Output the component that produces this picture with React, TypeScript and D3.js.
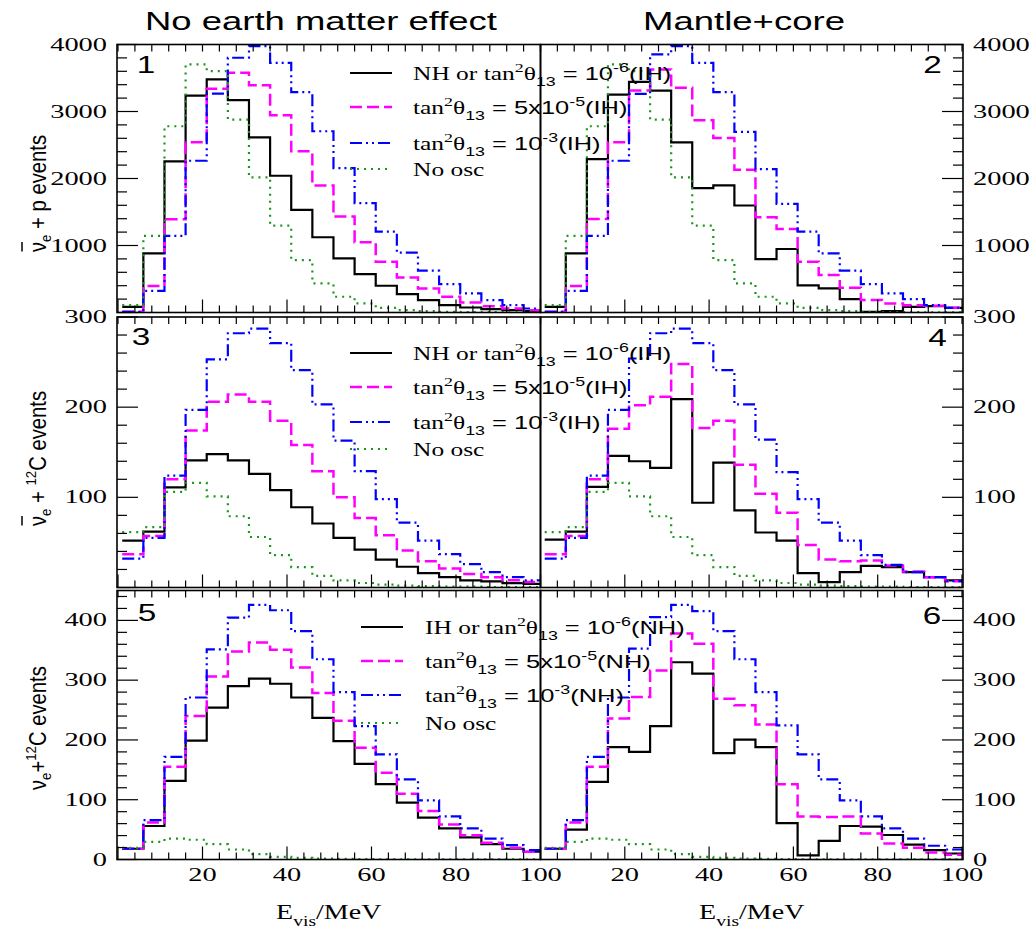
import React from 'react';
import * as d3 from 'd3';

// ---------- data ----------
const binEdges = [1, 6, 11, 16, 21, 26, 31, 36, 41, 46, 51, 56, 61, 66, 71, 76, 81, 86, 91, 96, 101];

// panel 1: anti-nu_e + p, no earth matter effect
const p1Black = [85, 883, 2255, 3238, 3478, 3169, 2615, 2041, 1532, 1123, 808, 574, 399, 274, 185, 110, 75, 50, 35, 20];
const p1Magenta = [10, 394, 1392, 2540, 3338, 3578, 3393, 2944, 2405, 1896, 1432, 1048, 758, 524, 359, 235, 150, 95, 60, 35];
const p1Blue = [10, 324, 1143, 2265, 3268, 3802, 3977, 3727, 3288, 2705, 2156, 1632, 1207, 893, 624, 424, 284, 185, 110, 60];
const noOscP = [110, 1143, 2780, 3703, 3603, 2879, 2016, 1297, 783, 434, 235, 135, 70, 35, 20, 10, 5, 5, 3, 2];

// panel 2: anti-nu_e + p, mantle+core
const p2Black = [85, 883, 2290, 3253, 3443, 3313, 2540, 1856, 1896, 1597, 798, 948, 404, 359, 200, 10, 20, 85, 95, 70];
const p2Magenta = [10, 394, 1397, 2540, 3313, 3628, 3353, 2869, 2605, 2131, 1422, 1248, 758, 559, 369, 185, 135, 110, 100, 70];
const p2Blue = [10, 324, 1143, 2265, 3263, 3852, 3977, 3727, 3288, 2695, 2141, 1622, 1207, 883, 624, 424, 284, 200, 110, 70];

// panel 3: anti-nu_e + 12C, no earth matter effect
const p3Black = [52, 62, 111, 141, 148, 141, 126, 108, 89, 71, 55, 42, 31, 23, 16, 11.5, 8, 6.7, 4.8, 4];
const p3Magenta = [37, 57, 120, 174, 206, 214, 206, 185, 158, 129, 100, 77, 58, 41, 29, 21, 15, 11.5, 8, 6];
const p3Blue = [32, 55, 124, 197, 253, 282, 287, 271, 241, 203, 163, 129, 98, 72, 52, 37, 26, 17, 11.5, 8];
const noOscC = [61.5, 67, 106, 116, 101, 79, 56, 36, 22.6, 13, 7.8, 5, 3.3, 2, 1.5, 1, 1, 0.5, 0.5, 0.5];

// panel 4: anti-nu_e + 12C, mantle+core
const p4Black = [53, 62, 111.5, 146, 140, 132.6, 209, 94, 138.5, 85.5, 61, 52, 16, 6, 17, 24, 22.6, 17, 11.5, 8];
const p4Magenta = [37, 57, 120, 176, 202, 211.5, 248, 177, 185, 136, 104, 83, 47, 31, 29, 30, 24.4, 17.8, 11.5, 7];
const p4Blue = [32, 55, 124, 197, 254, 282, 287, 271, 241, 203, 164, 128, 98, 72, 52, 36, 25, 17, 11.5, 7];

// panel 5: nu_e + 12C, no earth matter effect
const p5Black = [18, 56, 131.5, 199, 254, 290, 302.5, 294, 271, 237, 198, 160, 126, 95, 70, 52, 37, 25.6, 18, 13];
const p5Magenta = [18, 62, 155, 240, 306, 348, 363, 351, 321, 278.5, 232, 187, 145, 110, 81, 58.5, 40.7, 28, 19.5, 13];
const p5Blue = [18, 66, 171.6, 271, 351.5, 404.5, 426, 417, 382, 335, 280, 223, 176, 134, 99, 72, 52, 35, 24, 15.6];
const noOscNu = [19.5, 29.5, 35, 33, 25.6, 16.7, 9, 4.5, 2.8, 1.7, 1, 0.5, 0.3, 0.2, 0.1, 0.1, 0.1, 0.1, 0.1, 0.1];

// panel 6: nu_e + 12C, mantle+core
const p6Black = [18, 50, 130, 188, 180, 223, 330, 311, 178, 200.5, 188, 61, 7, 31, 56, 55, 41, 25, 15.6, 10];
const p6Magenta = [18, 62, 155, 236, 272, 316, 378, 361, 269, 258, 226, 126, 72, 71, 72, 43.5, 26.7, 19.5, 11.7, 8];
const p6Blue = [18, 66, 171.6, 271, 352.6, 405.6, 426, 415.6, 382, 335, 280, 224.5, 176, 134, 99, 72, 52, 35, 23, 16.7];

const xTickLabels = [20, 40, 60, 80, 100];
const yLabelsP = [1000, 2000, 3000, 4000];
const yLabelsAC = [100, 200, 300];
const yLabelsNC = [0, 100, 200, 300, 400];
const columnTitles = ['No earth matter effect', 'Mantle+core'];

// ---------- layout / style ----------
const serif = "'Liberation Serif', 'Times New Roman', serif";
const sans = "'Liberation Sans', Arial, sans-serif";

const cols = [
  { fx0: 117, fx1: 540.5, xr: [118, 540.5] },
  { fx0: 540.5, fx1: 963, xr: [540.5, 962] },
];
const rows = [
  { y0: 44.5, y1: 312.5, max: 4000, major: 1000, minor: 200, labels: yLabelsP },
  { y0: 317, y1: 587.5, max: 300, major: 100, minor: 20, labels: yLabelsAC },
  { y0: 590.5, y1: 859.5, max: 450, major: 100, minor: 20, labels: yLabelsNC },
];

const styles = [
  { color: '#000000', width: 2.2, dash: '' },
  { color: '#ff00ff', width: 2.5, dash: '12,5' },
  { color: '#0000ff', width: 2.2, dash: '12,4,2,4,2,4' },
  { color: '#1a961a', width: 2.2, dash: '2,5' },
];

const panels = [
  { row: 0, col: 0, series: [p1Black, p1Magenta, p1Blue, noOscP], num: '1', nx: 146, ny: 73 },
  { row: 0, col: 1, series: [p2Black, p2Magenta, p2Blue, noOscP], num: '2', nx: 932.5, ny: 73 },
  { row: 1, col: 0, series: [p3Black, p3Magenta, p3Blue, noOscC], num: '3', nx: 141, ny: 345 },
  { row: 1, col: 1, series: [p4Black, p4Magenta, p4Blue, noOscC], num: '4', nx: 937.5, ny: 346 },
  { row: 2, col: 0, series: [p5Black, p5Magenta, p5Blue, noOscNu], num: '5', nx: 147, ny: 621 },
  { row: 2, col: 1, series: [p6Black, p6Magenta, p6Blue, noOscNu], num: '6', nx: 932, ny: 624 },
];

type Part = { t: string; f: 'r' | 's'; p?: 'sup' | 'sub' };

function legendParts(prefix: string, mid: string, hier: string): Part[] {
  const parts: Part[] = [];
  if (prefix) parts.push({ t: prefix, f: 'r' });
  parts.push({ t: 'tan', f: 'r' });
  parts.push({ t: '2', f: 'r', p: 'sup' });
  parts.push({ t: 'θ', f: 'r' });
  parts.push({ t: '13', f: 's', p: 'sub' });
  return parts.concat(midParts(mid, hier));
}
function midParts(mid: string, hier: string): Part[] {
  const [base, exp] = mid.split('|');
  return [
    { t: ' = ' + base, f: 's' },
    { t: exp, f: 's', p: 'sup' },
    { t: '(' + hier + ')', f: 's' },
  ];
}

const legendRowsY = [
  [73, 107, 143, 169],
  [353, 387, 422, 449],
  [627, 661, 695, 723],
];

function RichText({ parts, size }: { parts: Part[]; size: number }) {
  let cur = 0;
  return (
    <text fontSize={size} fill="#000">
      {parts.map((p, i) => {
        const target = p.p === 'sup' ? -8 : p.p === 'sub' ? 6 : 0;
        const dy = target - cur;
        cur = target;
        return (
          <tspan key={i} dy={dy} fontFamily={p.f === 'r' ? serif : sans} fontSize={p.p ? size * 0.7 : size}>
            {p.t}
          </tspan>
        );
      })}
    </text>
  );
}

function histPath(values: number[], x: d3.ScaleLinear<number, number>, y: d3.ScaleLinear<number, number>) {
  const pts: [number, number][] = values.map((v, i) => [x(binEdges[i]), y(v)]);
  pts.push([x(binEdges[values.length]), y(values[values.length - 1])]);
  return d3.line().curve(d3.curveStepAfter)(pts) || '';
}

function Digits({ x, y, text, anchor }: { x: number; y: number; text: string; anchor: 'start' | 'end' | 'middle' }) {
  const len = text.length * 14.2;
  const x0 = anchor === 'start' ? x : anchor === 'end' ? x - len : x - len / 2;
  return (
    <text x={x0} y={y} fontFamily={serif} fontSize={18.5} textLength={len} lengthAdjust="spacingAndGlyphs">
      {text}
    </text>
  );
}

export default function App() {
  const xScales = cols.map((c) => d3.scaleLinear().domain([0, 100]).range(c.xr));
  const yScales = rows.map((r) => d3.scaleLinear().domain([0, r.max]).range([r.y1, r.y0]));
  const xTicks = d3.range(0, 100.001, 4);

  const legendSets = [
    { rowIdx: 0, lx: [350, 392], tx: 413, first: 'NH or ', hier: 'IH' },
    { rowIdx: 1, lx: [350, 392], tx: 413, first: 'NH or ', hier: 'IH' },
    { rowIdx: 2, lx: [361, 403], tx: 425, first: 'IH or ', hier: 'NH' },
  ];

  return (
    <svg width={1036} height={929} style={{ position: 'absolute', left: 0, top: 0, background: '#fff' }}>
      <rect x={0} y={0} width={1036} height={929} fill="#fff" />
      <defs>
        {panels.map((p, i) => {
          const c = cols[p.col];
          const r = rows[p.row];
          return (
            <clipPath id={`clip${i}`} key={i}>
              <rect x={c.fx0} y={r.y0} width={c.fx1 - c.fx0} height={r.y1 - r.y0} />
            </clipPath>
          );
        })}
      </defs>

      {/* titles */}
      <text x={145} y={30} fontFamily={sans} fontSize={26} textLength={352} lengthAdjust="spacingAndGlyphs">
        {columnTitles[0]}
      </text>
      <text x={643} y={30} fontFamily={sans} fontSize={26} textLength={202} lengthAdjust="spacingAndGlyphs">
        {columnTitles[1]}
      </text>

      {panels.map((p, i) => {
        const c = cols[p.col];
        const r = rows[p.row];
        const x = xScales[p.col];
        const y = yScales[p.row];
        const yTicks = d3.range(0, r.max + 0.001, r.minor);
        const isLeft = p.col === 0;
        const yEdge = isLeft ? c.fx0 : c.fx1;
        const dir = isLeft ? 1 : -1;
        return (
          <g key={i}>
            <g clipPath={`url(#clip${i})`}>
              {p.series.map((s, k) => (
                <path
                  key={k}
                  d={histPath(s, x, y)}
                  fill="none"
                  stroke={styles[k].color}
                  strokeWidth={styles[k].width}
                  strokeDasharray={styles[k].dash || undefined}
                />
              ))}
            </g>
            <rect x={c.fx0} y={r.y0} width={c.fx1 - c.fx0} height={r.y1 - r.y0} fill="none" stroke="#000" strokeWidth={1.6} />
            {xTicks.map((t) => {
              const major = Math.abs(t % 20) < 1e-6;
              return (
                <g key={'x' + t} stroke="#000" strokeWidth={1.2}>
                  <line x1={x(t)} x2={x(t)} y1={r.y1} y2={r.y1 - (major ? 13 : 7)} />
                  <line x1={x(t)} x2={x(t)} y1={r.y0} y2={r.y0 + 7} />
                </g>
              );
            })}
            {yTicks.map((t) => {
              const major = Math.abs(t % r.major) < 1e-6;
              const yy = y(t);
              return (
                <line
                  key={'y' + t}
                  x1={yEdge}
                  x2={yEdge + dir * (major ? 21 : 10)}
                  y1={yy}
                  y2={yy}
                  stroke="#000"
                  strokeWidth={1.2}
                />
              );
            })}
            {r.labels.map((v) => (
              <Digits key={'yl' + v} x={isLeft ? 107 : 973} y={y(v) + 6} text={String(v)} anchor={isLeft ? 'end' : 'start'} />
            ))}
            {p.row === 2 &&
              xTickLabels.map((v) => <Digits key={'xl' + v} x={x(v)} y={881} text={String(v)} anchor="middle" />)}
            <g transform={`translate(${p.nx},${p.ny}) scale(1.45,1)`}>
              <text textAnchor="middle" fontFamily={sans} fontSize={23}>
                {p.num}
              </text>
            </g>
          </g>
        );
      })}

      {/* legends */}
      {legendSets.map((L, li) => {
        const ys = legendRowsY[L.rowIdx];
        const entries: Part[][] = [
          legendParts(L.first, '10|-6', L.hier),
          legendParts('', '5x10|-5', L.hier),
          legendParts('', '10|-3', L.hier),
          [{ t: 'No osc', f: 'r' }],
        ];
        return (
          <g key={li}>
            {entries.map((parts, k) => (
              <g key={k}>
                <line
                  x1={L.lx[0]}
                  x2={L.lx[1]}
                  y1={ys[k]}
                  y2={ys[k]}
                  stroke={styles[k].color}
                  strokeWidth={styles[k].width}
                  strokeDasharray={styles[k].dash || undefined}
                />
                <g transform={`translate(${L.tx},${ys[k] + 7}) scale(1.34,1)`}>
                  <RichText parts={parts} size={19} />
                </g>
              </g>
            ))}
          </g>
        );
      })}

      {/* y axis titles */}
      <g transform="translate(46,252) rotate(-90) scale(0.88,1)">
        <text fontFamily={sans} fontSize={23}>
          <tspan>ν</tspan>
          <tspan dy={5} fontSize={15}>e</tspan>
          <tspan dy={-5}> + p events</tspan>
        </text>
        <line x1={0.5} x2={11.5} y1={-24} y2={-24} stroke="#000" strokeWidth={1.5} />
      </g>
      <g transform="translate(46,526) rotate(-90) scale(0.88,1)">
        <text fontFamily={sans} fontSize={23}>
          <tspan>ν</tspan>
          <tspan dy={5} fontSize={15}>e</tspan>
          <tspan dy={-5}> + </tspan>
          <tspan dy={-10} fontSize={15}>12</tspan>
          <tspan dy={10}>C events</tspan>
        </text>
        <line x1={0.5} x2={11.5} y1={-24} y2={-24} stroke="#000" strokeWidth={1.5} />
      </g>
      <g transform="translate(46,790) rotate(-90) scale(0.88,1)">
        <text fontFamily={sans} fontSize={23}>
          <tspan>ν</tspan>
          <tspan dy={5} fontSize={15}>e</tspan>
          <tspan dy={-5}>+</tspan>
          <tspan dy={-10} fontSize={15}>12</tspan>
          <tspan dy={10}>C events</tspan>
        </text>
      </g>

      {/* x axis titles */}
      {cols.map((c, i) => (
        <g key={i} transform={`translate(${(c.fx0 + c.fx1) / 2},919) scale(1.4,1)`}>
          <text textAnchor="middle" fontFamily={serif} fontSize={20}>
            <tspan>E</tspan>
            <tspan dy={7} fontSize={14}>vis</tspan>
            <tspan dy={-7}>/MeV</tspan>
          </text>
        </g>
      ))}
    </svg>
  );
}
